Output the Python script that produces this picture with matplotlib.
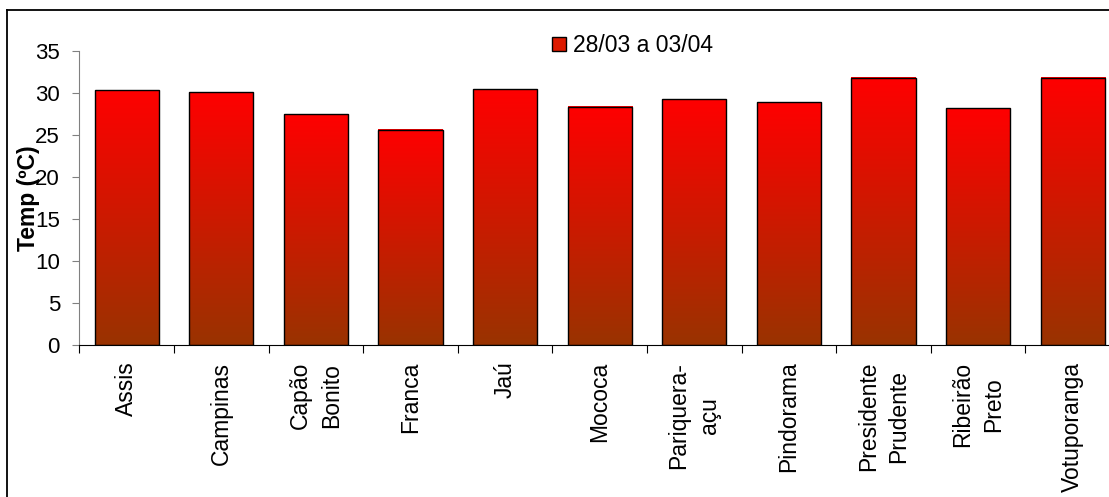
import numpy as np
import matplotlib
matplotlib.use('Agg')
import matplotlib.pyplot as plt
from matplotlib.colors import LinearSegmentedColormap
from matplotlib.patches import Patch
from matplotlib.lines import Line2D

# dados
estacoes = ['Assis', 'Campinas', 'Capão\nBonito', 'Franca', 'Jaú', 'Mococa',
            'Pariquera-\naçu', 'Pindorama', 'Presidente\nPrudente',
            'Ribeirão\nPreto', 'Votuporanga']
temp = [30.3, 30.1, 27.45, 25.65, 30.45, 28.35, 29.25, 28.9, 31.8, 28.2, 31.8]
serie = '28/03 a 03/04'

plt.rcParams['font.family'] = ['Liberation Sans', 'DejaVu Sans']

W, H = 1109, 497
fig = plt.figure(figsize=(W / 100, H / 100), dpi=100)
ax = fig.add_axes([79.4 / W, 152 / H, (1120 - 79.4) / W, 294 / H])

cmap = LinearSegmentedColormap.from_list('grad', ['#993300', '#ff0000'])
grad = np.linspace(0, 1, 256).reshape(-1, 1)

x = np.arange(len(estacoes))
bars = ax.bar(x, temp, width=0.68, facecolor='none', edgecolor='black',
              linewidth=1.0, zorder=3)
for b in bars:
    x0, w, h = b.get_x(), b.get_width(), b.get_height()
    ax.imshow(grad, cmap=cmap, origin='lower', aspect='auto',
              extent=(x0, x0 + w, 0, h), zorder=2)

ax.set_xlim(-0.5, len(estacoes) - 0.5)
ax.set_ylim(0, 35)
ax.set_yticks(range(0, 36, 5))
ax.tick_params(axis='y', labelsize=16, length=5, width=0.8, pad=9,
               color='#808080')

ax.set_xticks(x)
ax.set_xticklabels(estacoes, rotation=90, fontsize=16.5, va='top',
                   ha='center', linespacing=1.43)
ax.tick_params(axis='x', which='major', length=0, pad=12)
ax.set_xticks(np.arange(-0.5, len(estacoes)), minor=True)
ax.tick_params(axis='x', which='minor', length=6, width=0.8, color='black')

for s in ['top', 'right']:
    ax.spines[s].set_visible(False)
ax.spines['left'].set_color('#808080')
ax.spines['bottom'].set_color('black')

ax.set_ylabel('Temp (ºC)', fontsize=16.5, fontweight='bold')
ax.yaxis.set_label_coords((40 - 79.4) / (1120 - 79.4), 0.5)

handle = Patch(facecolor='#dd1a00', edgecolor='black', linewidth=1.0)
fig.legend([handle], [serie], loc='upper left',
           bbox_to_anchor=(552 / W, 1 - 34 / H), frameon=False, fontsize=16.5,
           handlelength=0.62, handleheight=0.62, handletextpad=0.3,
           borderpad=0, borderaxespad=0)

# moldura (cortada a direita e embaixo)
fig.add_artist(Line2D([7 / W, 7 / W], [0, 1 - 10 / H], color='black',
                      linewidth=1.3, transform=fig.transFigure))
fig.add_artist(Line2D([7 / W, 1], [1 - 10 / H, 1 - 10 / H], color='black',
                      linewidth=1.3, transform=fig.transFigure))

fig.savefig('out.png', dpi=100)
